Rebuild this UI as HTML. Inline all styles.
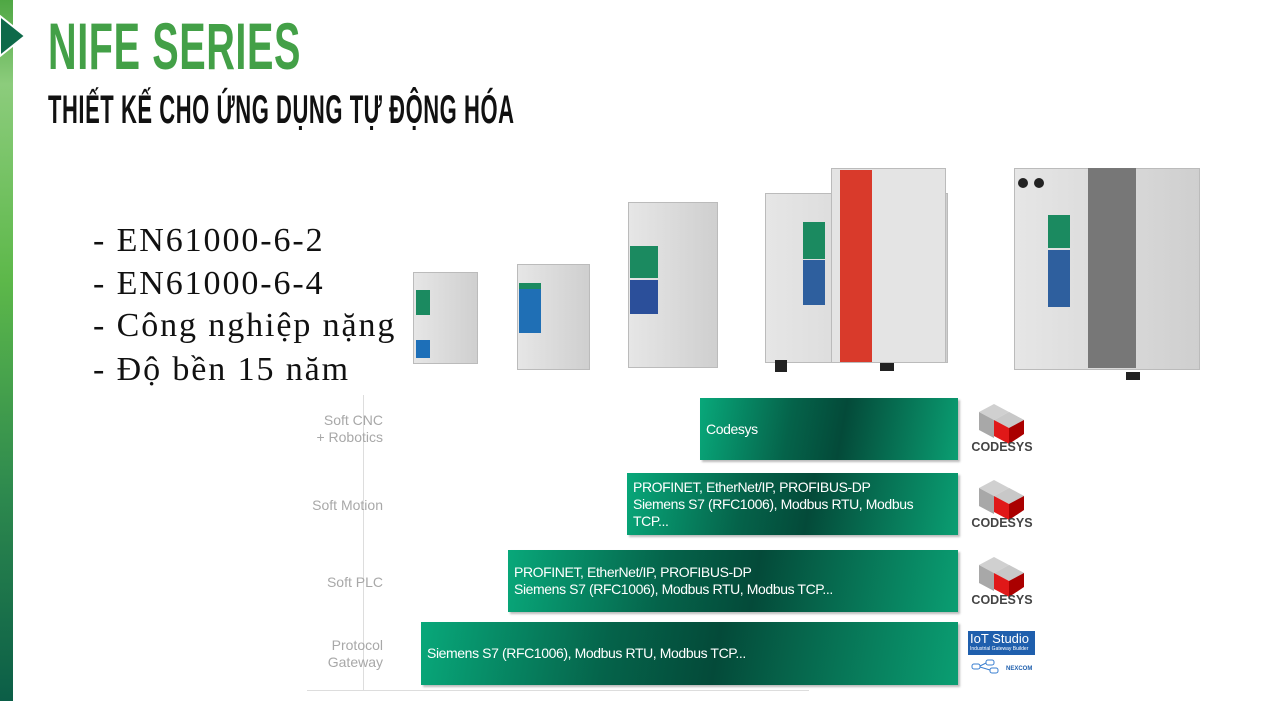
<!DOCTYPE html>
<html><head><meta charset="utf-8"><style>
*{margin:0;padding:0;box-sizing:border-box}
body{width:1271px;height:701px;background:#fff;position:relative;overflow:hidden;font-family:"Liberation Sans",sans-serif}
.a{position:absolute}
.h1{left:48px;top:8px;font-size:66px;font-weight:bold;color:#43a047;transform:scaleX(.60);transform-origin:0 0;white-space:nowrap;letter-spacing:1px}
.h2{left:48px;top:88px;font-size:40px;font-weight:bold;color:#111;transform:scaleX(.55);transform-origin:0 0;white-space:nowrap;letter-spacing:1px}
.bul{left:93px;font-family:"Liberation Serif",serif;font-size:34px;color:#111;white-space:nowrap;letter-spacing:1.9px}
.lab{color:#a8a8a8;font-size:14px;text-align:right;width:150px;left:233px;line-height:17px}
.bar{background:linear-gradient(100deg,#08a87a 0%,#05634a 35%,#044a39 55%,#0a9e72 100%);color:#fff;font-size:14px;letter-spacing:-.4px;line-height:17px;padding-left:6px;box-shadow:2px 2px 2px #bbb;display:flex;align-items:center}
.cs{font-size:12.5px;font-weight:bold;color:#444;left:969px;width:66px;text-align:center}
.dev{background:linear-gradient(90deg,#e6e6e6,#cfcfcf);border:1px solid #bbb}
</style></head><body>
<div class="a" style="left:0;top:0;width:13px;height:701px;background:linear-gradient(180deg,#4fa744 0%,#8ccc7c 12%,#5db84a 40%,#2e8a4e 70%,#0b5e47 100%)"></div>
<svg class="a" style="left:0;top:14px" width="30" height="44"><polygon points="0,2 25,22 0,42" fill="#0e6a4a" stroke="#fff" stroke-width="2"/></svg>
<div class="a h1">NIFE SERIES</div>
<div class="a h2">THIẾT KẾ CHO ỨNG DỤNG TỰ ĐỘNG HÓA</div>
<div class="a bul" style="top:222px">- EN61000-6-2</div>
<div class="a bul" style="top:265px">- EN61000-6-4</div>
<div class="a bul" style="top:307px">- Công nghiệp nặng</div>
<div class="a bul" style="top:351px">- Độ bền 15 năm</div>

<!-- devices -->
<div class="a dev" style="left:413px;top:272px;width:65px;height:92px"></div>
<div class="a" style="left:416px;top:290px;width:14px;height:25px;background:#1b8a60"></div>
<div class="a" style="left:416px;top:340px;width:14px;height:18px;background:#1d6fb8"></div>
<div class="a dev" style="left:517px;top:264px;width:73px;height:106px"></div>
<div class="a" style="left:519px;top:285px;width:22px;height:48px;background:#1f6fb5"></div>
<div class="a" style="left:519px;top:283px;width:22px;height:6px;background:#1b8a60"></div>
<div class="a dev" style="left:628px;top:202px;width:90px;height:166px"></div>
<div class="a" style="left:630px;top:246px;width:28px;height:32px;background:#1b8a60"></div>
<div class="a" style="left:630px;top:280px;width:28px;height:34px;background:#2b4f9a"></div>
<div class="a dev" style="left:765px;top:193px;width:183px;height:170px"></div>
<div class="a" style="left:831px;top:168px;width:115px;height:195px;background:#e4e4e4;border:1px solid #bbb"></div>
<div class="a" style="left:840px;top:170px;width:32px;height:192px;background:#d93a2b"></div>
<div class="a" style="left:803px;top:222px;width:22px;height:37px;background:#1b8a60"></div>
<div class="a" style="left:803px;top:260px;width:22px;height:45px;background:#2e5f9e"></div>
<div class="a" style="left:775px;top:360px;width:12px;height:12px;background:#222"></div>
<div class="a" style="left:880px;top:363px;width:14px;height:8px;background:#222"></div>
<div class="a dev" style="left:1014px;top:168px;width:186px;height:202px"></div>
<div class="a" style="left:1088px;top:168px;width:48px;height:200px;background:#777"></div>
<div class="a" style="left:1048px;top:215px;width:22px;height:33px;background:#1b8a60"></div>
<div class="a" style="left:1048px;top:250px;width:22px;height:57px;background:#2e5f9e"></div>
<div class="a" style="left:1018px;top:178px;width:10px;height:10px;border-radius:50%;background:#222"></div>
<div class="a" style="left:1034px;top:178px;width:10px;height:10px;border-radius:50%;background:#222"></div>
<div class="a" style="left:1126px;top:372px;width:14px;height:8px;background:#222"></div>

<!-- chart -->
<div class="a" style="left:363px;top:395px;width:1px;height:295px;background:#ddd"></div>
<div class="a" style="left:307px;top:690px;width:502px;height:1px;background:#ddd"></div>
<div class="a lab" style="top:412px">Soft CNC<br>+ Robotics</div>
<div class="a lab" style="top:497px">Soft Motion</div>
<div class="a lab" style="top:574px">Soft PLC</div>
<div class="a lab" style="top:637px">Protocol<br>Gateway</div>
<div class="a bar" style="left:700px;top:398px;width:258px;height:62px">Codesys</div>
<div class="a bar" style="left:627px;top:473px;width:331px;height:62px">PROFINET, EtherNet/IP, PROFIBUS-DP<br>Siemens S7 (RFC1006), Modbus RTU, Modbus<br>TCP...</div>
<div class="a bar" style="left:508px;top:550px;width:450px;height:62px">PROFINET, EtherNet/IP, PROFIBUS-DP<br>Siemens S7 (RFC1006), Modbus RTU, Modbus TCP...</div>
<div class="a bar" style="left:421px;top:622px;width:537px;height:63px">Siemens S7 (RFC1006), Modbus RTU, Modbus TCP...</div>

<svg width="0" height="0" style="position:absolute"><defs><g id="cube">
<polygon points="15,0 30,8 15,16 0,8" fill="#d0d0d0"/>
<polygon points="0,8 15,16 15,34 0,26" fill="#a8a8a8"/>
<polygon points="30,8 45,16 45,26 30,34" fill="#bcbcbc"/>
<polygon points="30,8 15,16 30,24 45,16" fill="#c8c8c8"/>
<polygon points="15,16 30,24 30,40 15,32" fill="#e01818"/>
<polygon points="30,24 45,16 45,30 30,40" fill="#a00"/>
</g></defs></svg>
<svg class="a" style="left:979px;top:404px" width="46" height="42"><use href="#cube"/></svg>
<div class="a cs" style="top:440px">CODESYS</div>
<svg class="a" style="left:979px;top:480px" width="46" height="42"><use href="#cube"/></svg>
<div class="a cs" style="top:516px">CODESYS</div>
<svg class="a" style="left:979px;top:557px" width="46" height="42"><use href="#cube"/></svg>
<div class="a cs" style="top:593px">CODESYS</div>
<div class="a" style="left:968px;top:631px;width:67px;height:24px;background:#1f5fad;color:#fff;font-size:13px;line-height:15px;padding-left:2px">IoT Studio<div style="font-size:5px;line-height:6px">Industrial Gateway Builder</div></div>
<svg class="a" style="left:970px;top:658px" width="64" height="16"><rect x="2" y="6" width="8" height="5" rx="2" fill="none" stroke="#3a7fd0"/><rect x="16" y="2" width="8" height="5" rx="2" fill="none" stroke="#3a7fd0"/><rect x="20" y="10" width="8" height="5" rx="2" fill="none" stroke="#3a7fd0"/><line x1="10" y1="8" x2="16" y2="5" stroke="#3a7fd0"/><line x1="10" y1="9" x2="20" y2="12" stroke="#3a7fd0"/><text x="36" y="12" font-size="6" font-family="Liberation Sans" font-weight="bold" fill="#1f5fad">NEXCOM</text></svg>
</body></html>
